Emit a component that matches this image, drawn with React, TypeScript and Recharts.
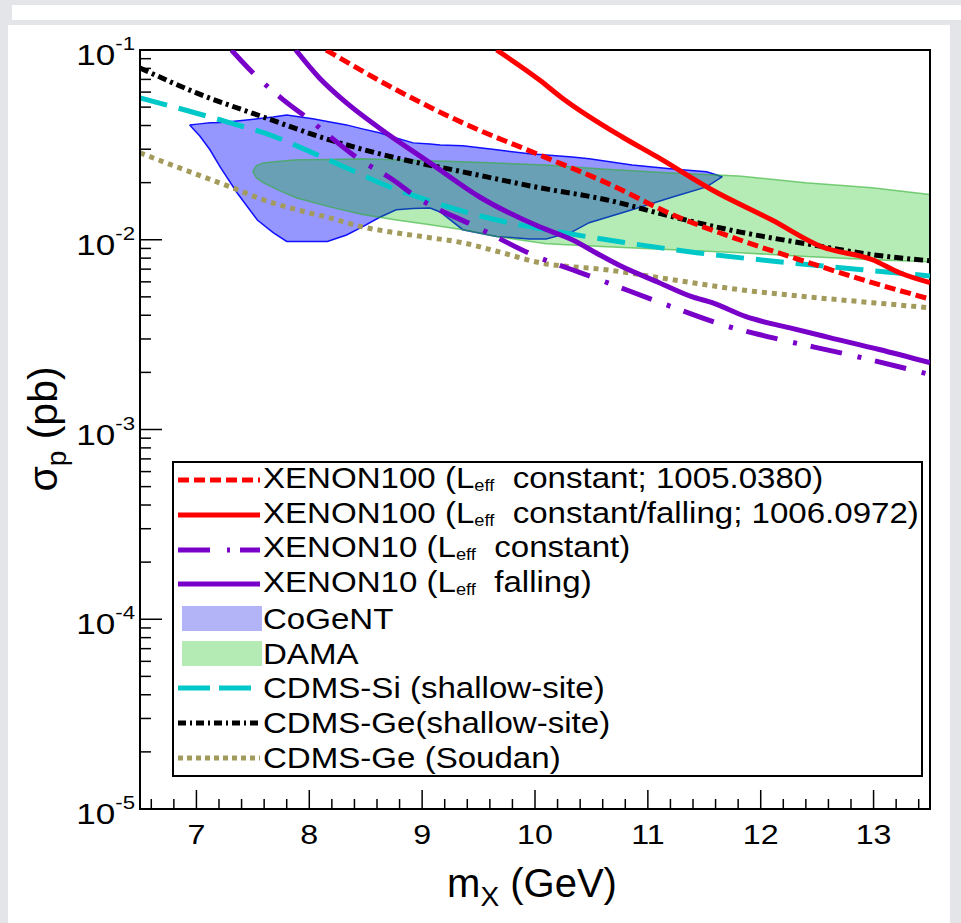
import { ComposedChart, Line, Area, XAxis, YAxis, Legend, ReferenceArea } from 'recharts'

const FONT = '"Liberation Sans", Arial, Helvetica, sans-serif'

// ---- values (m_X in GeV, sigma_p in pb) ----
const cogentMass = [6.94, 7.03, 7.12, 7.21, 7.36, 7.54, 7.68, 7.8, 8.03, 8.16, 8.33, 8.47, 8.62, 8.77, 8.92, 9.07, 9.16, 9.36, 9.66, 9.95, 10.1, 10.33, 10.48, 10.86, 11.22, 11.52, 11.66]
const cogentHigh = [0.0403, 0.0408, 0.0413, 0.0415, 0.0423, 0.0434, 0.0444, 0.0455, 0.0434, 0.042, 0.0403, 0.0384, 0.0366, 0.0344, 0.0324, 0.032, 0.0316, 0.0313, 0.0298, 0.0284, 0.028, 0.0273, 0.0267, 0.0248, 0.0236, 0.0228, 0.0215]
const cogentLow = [0.0403, 0.0352, 0.0298, 0.0242, 0.0177, 0.0127, 0.0109, 0.0098, 0.0098, 0.0098, 0.0106, 0.0117, 0.0131, 0.0144, 0.0146, 0.0147, 0.014, 0.0113, 0.0104, 0.0101, 0.0101, 0.011, 0.0123, 0.0144, 0.0168, 0.019, 0.0215]

const damaMass = [7.5, 7.53, 7.59, 7.74, 7.89, 8.18, 8.47, 8.77, 9.07, 9.36, 9.66, 10.1, 10.63, 11.22, 11.81, 12.4, 12.99, 13.5]
const damaHigh = [0.0229, 0.0245, 0.0254, 0.0259, 0.0264, 0.0265, 0.0267, 0.0264, 0.0261, 0.0258, 0.0254, 0.0248, 0.0235, 0.0225, 0.0217, 0.02, 0.0188, 0.0173]
const damaLow = [0.0229, 0.0212, 0.02, 0.0181, 0.0166, 0.0149, 0.0136, 0.0127, 0.012, 0.0113, 0.0104, 0.00953, 0.00918, 0.00885, 0.00855, 0.00815, 0.00785, 0.00766]

const xe100ConstMass = [8.15, 8.77, 9.36, 10.04, 10.63, 11.22, 11.81, 12.4, 12.99, 13.5]
const xe100ConstSigma = [0.1, 0.0617, 0.0413, 0.028, 0.02, 0.01355, 0.01, 0.00766, 0.00594, 0.00487]

const xe100FallMass = [9.66, 10.04, 10.24, 10.77, 11.08, 11.57, 12.1, 12.54, 12.99, 13.23, 13.5]
const xe100FallSigma = [0.1, 0.0695, 0.0559, 0.0349, 0.0274, 0.0183, 0.0127, 0.00918, 0.00785, 0.0067, 0.00594]

const xe10ConstMass = [7.31, 7.52, 7.77, 7.98, 8.45, 8.74, 8.95, 9.48, 10.04, 10.33, 10.57, 11.16, 11.72, 12.1, 12.78, 13.5]
const xe10ConstSigma = [0.1, 0.0738, 0.0546, 0.0439, 0.0264, 0.0207, 0.0168, 0.0117, 0.00804, 0.00695, 0.00616, 0.00455, 0.00348, 0.00305, 0.00248, 0.00195]

const xe10FallMass = [7.88, 8.09, 8.33, 8.62, 9.07, 9.51, 10.04, 10.33, 10.57, 10.77, 11.1, 11.39, 11.57, 11.87, 12.25, 12.61, 13.05, 13.5]
const xe10FallSigma = [0.1, 0.0712, 0.0526, 0.0388, 0.0254, 0.0168, 0.0117, 0.01, 0.00834, 0.00722, 0.00594, 0.00501, 0.00466, 0.00393, 0.00344, 0.00305, 0.00264, 0.00225]

const cdmsSiMass = [6.5, 7.3, 7.68, 8.03, 8.33, 8.69, 9.07, 9.66, 10.1, 10.75, 11.43, 12.16, 12.9, 13.5]
const cdmsSiSigma = [0.0559, 0.0413, 0.0352, 0.0287, 0.0239, 0.0192, 0.016, 0.0127, 0.0113, 0.00976, 0.00855, 0.00766, 0.00695, 0.00645]

const cdmsGeMass = [6.5, 7.0, 7.59, 8.18, 8.77, 9.36, 10.04, 10.63, 11.22, 11.81, 12.4, 12.99, 13.5]
const cdmsGeSigma = [0.0804, 0.0594, 0.0444, 0.0336, 0.027, 0.0228, 0.0188, 0.01626, 0.01321, 0.011, 0.00953, 0.00834, 0.00775]

const soudanMass = [6.5, 6.85, 7.3, 7.59, 7.89, 8.18, 8.47, 8.77, 9.07, 9.36, 9.66, 10.04, 10.63, 11.22, 11.81, 12.4, 12.99, 13.5]
const soudanSigma = [0.0287, 0.0239, 0.019, 0.01626, 0.01439, 0.01305, 0.01169, 0.01088, 0.01025, 0.00964, 0.0087, 0.00757, 0.00695, 0.00616, 0.00546, 0.00501, 0.00466, 0.00438]

const yMajorTicks = [1e-5, 1e-4, 1e-3, 1e-2, 1e-1]

// minor ticks: x every 0.2 GeV, y at 2..9 per decade
const xTicks: number[] = []
for (let i = 0; i < 35; i++) xTicks.push(Math.round((6.6 + i * 0.2) * 10) / 10)
const yTicks: number[] = []
yMajorTicks.forEach((d, i) => {
  yTicks.push(d)
  if (i < yMajorTicks.length - 1) for (let k = 2; k <= 9; k++) yTicks.push(d * k)
})

const toLine = (xs: number[], ys: number[]) => xs.map((x, i) => ({ x, y: ys[i] }))
const toBand = (xs: number[], lo: number[], hi: number[]) => xs.map((x, i) => ({ x, band: [lo[i], hi[i]] }))

const RED = '#ff0000'
const PURPLE = '#7800c8'
const CYAN = '#00c8c8'
const BLACK = '#000000'
const OLIVE = '#a39b5b'

const LINES = [
  { key: 'soudan', data: toLine(soudanMass, soudanSigma), color: OLIVE, dash: '5 5' },
  { key: 'cdmsSi', data: toLine(cdmsSiMass, cdmsSiSigma), color: CYAN, dash: '28 12' },
  { key: 'cdmsGe', data: toLine(cdmsGeMass, cdmsGeSigma), color: BLACK, dash: '9 4 3 4' },
  { key: 'xe10c', data: toLine(xe10ConstMass, xe10ConstSigma), color: PURPLE, dash: '32 16 4 14' },
  { key: 'xe10f', data: toLine(xe10FallMass, xe10FallSigma), color: PURPLE, dash: undefined },
  { key: 'xe100c', data: toLine(xe100ConstMass, xe100ConstSigma), color: RED, dash: '11 5' },
  { key: 'xe100f', data: toLine(xe100FallMass, xe100FallSigma), color: RED, dash: undefined },
]

type Row = { pre: string; sub?: string; post?: string; color: string; dash?: string; box?: boolean }
const LEGEND_ROWS: Row[] = [
  { pre: 'XENON100 (L', sub: 'eff', post: '  constant; 1005.0380)', color: RED, dash: '11 5' },
  { pre: 'XENON100 (L', sub: 'eff', post: '  constant/falling; 1006.0972)', color: RED },
  { pre: 'XENON10 (L', sub: 'eff', post: '  constant)', color: PURPLE, dash: '32 17 3 10' },
  { pre: 'XENON10 (L', sub: 'eff', post: '  falling)', color: PURPLE },
  { pre: 'CoGeNT', color: '#b3b3f8', box: true },
  { pre: 'DAMA', color: '#b4ebb4', box: true },
  { pre: 'CDMS-Si (shallow-site)', color: CYAN, dash: '32 9' },
  { pre: 'CDMS-Ge(shallow-site)', color: BLACK, dash: '8 4 2 4' },
  { pre: 'CDMS-Ge (Soudan)', color: OLIVE, dash: '5 4' },
]

function XTick(props: any) {
  const { x, y, payload } = props
  const v = payload.value
  const major = Math.abs(v - Math.round(v)) < 1e-6
  return (
    <g>
      <line x1={x} x2={x} y1={y} y2={y - (major ? 19 : 10)} stroke="#000" strokeWidth={1.5} />
      {major && (
        <text transform={`translate(${x},${y + 35}) scale(1.15,1)`} textAnchor="middle" fontSize={28} fontFamily={FONT} fill="#000">
          {Math.round(v)}
        </text>
      )}
    </g>
  )
}

function YTick(props: any) {
  const { x, y, payload } = props
  const lg = Math.log10(payload.value)
  const exp = Math.round(lg)
  const major = Math.abs(lg - exp) < 1e-6
  return (
    <g>
      <line x1={x} x2={x + (major ? 22 : 11)} y1={y} y2={y} stroke="#000" strokeWidth={1.5} />
      {major && (
        <text transform={`translate(${x - 5},${y + 15}) scale(1.17,1)`} textAnchor="end" fontSize={30} fontFamily={FONT} fill="#000">
          10<tspan dy={-15} fontSize={19}>{exp}</tspan>
        </text>
      )}
    </g>
  )
}

function XTitle() {
  return (
    <text x={532} y={897} textAnchor="middle" fontSize={40} fontFamily={FONT} fill="#000">
      m<tspan dy={9} fontSize={28}>X</tspan>
      <tspan dy={-9}> (GeV)</tspan>
    </text>
  )
}

function YTitle() {
  return (
    <text transform="translate(57,429) rotate(-90)" textAnchor="middle" fontSize={41} fontFamily={FONT} fill="#000">
      σ<tspan dy={9} fontSize={28}>p</tspan>
      <tspan dy={-9}> (pb)</tspan>
    </text>
  )
}

function LegendBox() {
  return (
    <div
      style={{
        width: 751,
        height: 316,
        boxSizing: 'border-box',
        border: '2px solid #000',
        background: '#fff',
        fontFamily: FONT,
        color: '#000',
      }}
    >
      {LEGEND_ROWS.map((r, i) => (
        <div key={i} style={{ height: 34.7, display: 'flex', alignItems: 'center' }}>
          <svg width={84} height={26} style={{ marginLeft: 4, flex: 'none' }}>
            {r.box ? (
              <rect x={4} y={0} width={80} height={25} fill={r.color} />
            ) : (
              <line x1={0} x2={82} y1={13} y2={13} stroke={r.color} strokeWidth={5} strokeDasharray={r.dash} />
            )}
          </svg>
          <span
            style={{
              marginLeft: 1,
              fontSize: 29,
              lineHeight: '32px',
              whiteSpace: 'pre',
              transform: 'scaleX(1.14)',
              transformOrigin: 'left center',
              display: 'inline-block',
            }}
          >
            {r.pre}
            {r.sub && <span style={{ fontSize: 16, position: 'relative', top: 3 }}>{r.sub}</span>}
            {r.post}
          </span>
        </div>
      ))}
    </div>
  )
}

export default function App() {
  return (
    <div style={{ position: 'absolute', left: 0, top: 0, width: 961, height: 923, background: '#e4e5e9', overflow: 'hidden' }}>
      <div style={{ position: 'absolute', left: 12, top: 5, width: 949, height: 15, background: '#fff' }} />
      <div style={{ position: 'absolute', left: 8, top: 25, width: 942, height: 898, background: '#fff' }} />
      <div style={{ position: 'absolute', left: 0, top: 0 }}>
        <ComposedChart width={961} height={923} margin={{ top: 50, right: 31, bottom: 54, left: 10 }}>
          <XAxis
            dataKey="x"
            type="number"
            domain={[6.5, 13.5]}
            allowDataOverflow
            ticks={xTicks}
            interval={0}
            tick={<XTick />}
            tickLine={false}
            tickSize={0}
            tickMargin={0}
            axisLine={{ stroke: '#000', strokeWidth: 2 }}
            height={60}
            label={<XTitle />}
          />
          <YAxis
            type="number"
            scale="log"
            domain={[1e-5, 0.1]}
            allowDataOverflow
            ticks={yTicks}
            interval={0}
            tick={<YTick />}
            tickLine={false}
            tickSize={0}
            tickMargin={0}
            axisLine={{ stroke: '#000', strokeWidth: 2 }}
            width={130}
            label={<YTitle />}
          />
          <Area
            data={toBand(cogentMass, cogentLow, cogentHigh)}
            dataKey="band"
            type="linear"
            fill="#0000ff"
            fillOpacity={0.41}
            stroke="#1010ff"
            strokeWidth={1.5}
            isAnimationActive={false}
          />
          <Area
            data={toBand(damaMass, damaLow, damaHigh)}
            dataKey="band"
            type="linear"
            fill="#00ba00"
            fillOpacity={0.29}
            stroke="#30b030"
            strokeOpacity={0.6}
            strokeWidth={1.5}
            isAnimationActive={false}
          />
          {LINES.map((l) => (
            <Line
              key={l.key}
              data={l.data}
              dataKey="y"
              type="monotone"
              stroke={l.color}
              strokeWidth={5}
              strokeDasharray={l.dash}
              dot={false}
              activeDot={false}
              isAnimationActive={false}
            />
          ))}
          <ReferenceArea x1={6.5} x2={13.5} y1={1e-5} y2={0.1} fill="none" stroke="#000" strokeWidth={2} ifOverflow="visible" />
          <Legend
            layout="vertical"
            align="center"
            verticalAlign="middle"
            content={<LegendBox />}
            wrapperStyle={{ left: 172, top: 461, width: 751, height: 316 }}
          />
        </ComposedChart>
      </div>
    </div>
  )
}
